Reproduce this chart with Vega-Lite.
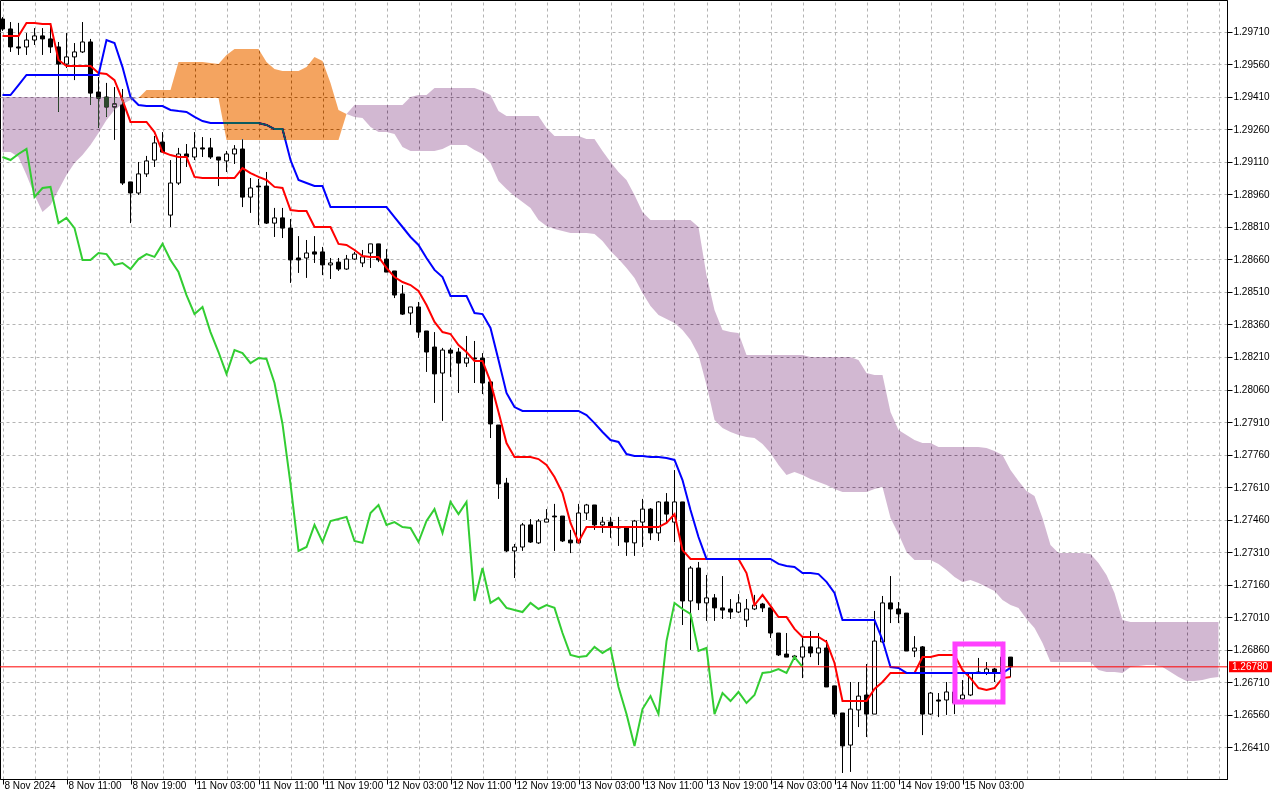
{
"$schema":"https://vega.github.io/schema/vega-lite/v6.json",
"width":1227,"height":779,
"autosize":{"type":"none"},
"padding":{"left":0,"top":0,"right":53,"bottom":21},
"background":"white",
"config":{"view":{"stroke":"black","strokeWidth":1},
"axis":{"labelFont":"Liberation Sans","labelFontSize":10,"labelColor":"black","tickColor":"black","domainColor":"black","gridColor":"#b4b4b4","gridDash":[3,3],"gridWidth":1,"tickWidth":1,"domainWidth":1}},
"datasets":{
"candles":[
{"i":0,"o":1.29770,"h":1.29779,"l":1.29715,"c":1.29724},
{"i":1,"o":1.29724,"h":1.29756,"l":1.29618,"c":1.29641},
{"i":2,"o":1.29641,"h":1.29752,"l":1.29604,"c":1.29636},
{"i":3,"o":1.29641,"h":1.29705,"l":1.29604,"c":1.29673},
{"i":4,"o":1.29673,"h":1.29728,"l":1.29650,"c":1.29692},
{"i":5,"o":1.29692,"h":1.29728,"l":1.29604,"c":1.29678},
{"i":6,"o":1.29678,"h":1.29742,"l":1.29613,"c":1.29641},
{"i":7,"o":1.29641,"h":1.29664,"l":1.29341,"c":1.29562},
{"i":8,"o":1.29562,"h":1.29705,"l":1.29544,"c":1.29595},
{"i":9,"o":1.29595,"h":1.29659,"l":1.29488,"c":1.29618},
{"i":10,"o":1.29618,"h":1.29756,"l":1.29613,"c":1.29664},
{"i":11,"o":1.29664,"h":1.29678,"l":1.29373,"c":1.29428},
{"i":12,"o":1.29433,"h":1.29502,"l":1.29267,"c":1.29405},
{"i":13,"o":1.29410,"h":1.29475,"l":1.29318,"c":1.29364},
{"i":14,"o":1.29364,"h":1.29456,"l":1.29212,"c":1.29378},
{"i":15,"o":1.29373,"h":1.29447,"l":1.29004,"c":1.29013},
{"i":16,"o":1.29018,"h":1.29018,"l":1.28828,"c":1.28967},
{"i":17,"o":1.28967,"h":1.29110,"l":1.28958,"c":1.29055},
{"i":18,"o":1.29055,"h":1.29138,"l":1.29041,"c":1.29115},
{"i":19,"o":1.29119,"h":1.29230,"l":1.29087,"c":1.29198},
{"i":20,"o":1.29202,"h":1.29248,"l":1.29152,"c":1.29156},
{"i":21,"o":1.28865,"h":1.29119,"l":1.28810,"c":1.29013},
{"i":22,"o":1.29013,"h":1.29175,"l":1.29004,"c":1.29147},
{"i":23,"o":1.29147,"h":1.29193,"l":1.29087,"c":1.29133},
{"i":24,"o":1.29133,"h":1.29248,"l":1.29119,"c":1.29175},
{"i":25,"o":1.29175,"h":1.29225,"l":1.29133,"c":1.29170},
{"i":26,"o":1.29175,"h":1.29221,"l":1.29124,"c":1.29133},
{"i":27,"o":1.29133,"h":1.29133,"l":1.28999,"c":1.29119},
{"i":28,"o":1.29115,"h":1.29161,"l":1.29064,"c":1.29147},
{"i":29,"o":1.29147,"h":1.29188,"l":1.29101,"c":1.29170},
{"i":30,"o":1.29170,"h":1.29216,"l":1.28902,"c":1.28948},
{"i":31,"o":1.28948,"h":1.29036,"l":1.28875,"c":1.28990},
{"i":32,"o":1.28999,"h":1.29032,"l":1.28819,"c":1.28995},
{"i":33,"o":1.28999,"h":1.29064,"l":1.28824,"c":1.28828},
{"i":34,"o":1.28828,"h":1.28898,"l":1.28764,"c":1.28852},
{"i":35,"o":1.28852,"h":1.28898,"l":1.28759,"c":1.28805},
{"i":36,"o":1.28805,"h":1.28847,"l":1.28552,"c":1.28658},
{"i":37,"o":1.28667,"h":1.28768,"l":1.28598,"c":1.28658},
{"i":38,"o":1.28667,"h":1.28750,"l":1.28575,"c":1.28690},
{"i":39,"o":1.28695,"h":1.28768,"l":1.28644,"c":1.28685},
{"i":40,"o":1.28695,"h":1.28718,"l":1.28588,"c":1.28635},
{"i":41,"o":1.28635,"h":1.28667,"l":1.28570,"c":1.28644},
{"i":42,"o":1.28648,"h":1.28667,"l":1.28607,"c":1.28616},
{"i":43,"o":1.28616,"h":1.28681,"l":1.28612,"c":1.28662},
{"i":44,"o":1.28662,"h":1.28695,"l":1.28658,"c":1.28685},
{"i":45,"o":1.28644,"h":1.28704,"l":1.28625,"c":1.28672},
{"i":46,"o":1.28690,"h":1.28732,"l":1.28621,"c":1.28732},
{"i":47,"o":1.28732,"h":1.28732,"l":1.28648,"c":1.28658},
{"i":48,"o":1.28662,"h":1.28708,"l":1.28602,"c":1.28602},
{"i":49,"o":1.28607,"h":1.28607,"l":1.28482,"c":1.28496},
{"i":50,"o":1.28501,"h":1.28542,"l":1.28404,"c":1.28408},
{"i":51,"o":1.28413,"h":1.28441,"l":1.28358,"c":1.28441},
{"i":52,"o":1.28441,"h":1.28464,"l":1.28298,"c":1.28325},
{"i":53,"o":1.28330,"h":1.28330,"l":1.28141,"c":1.28233},
{"i":54,"o":1.28256,"h":1.28325,"l":1.27998,"c":1.28132},
{"i":55,"o":1.28136,"h":1.28252,"l":1.27915,"c":1.28242},
{"i":56,"o":1.28242,"h":1.28252,"l":1.28118,"c":1.28228},
{"i":57,"o":1.28233,"h":1.28252,"l":1.28044,"c":1.28182},
{"i":58,"o":1.28182,"h":1.28307,"l":1.28164,"c":1.28205},
{"i":59,"o":1.28205,"h":1.28284,"l":1.28090,"c":1.28201},
{"i":60,"o":1.28205,"h":1.28228,"l":1.28039,"c":1.28090},
{"i":61,"o":1.28095,"h":1.28104,"l":1.27836,"c":1.27901},
{"i":62,"o":1.27896,"h":1.27896,"l":1.27555,"c":1.27624},
{"i":63,"o":1.27628,"h":1.27652,"l":1.27310,"c":1.27315},
{"i":64,"o":1.27315,"h":1.27347,"l":1.27190,"c":1.27333},
{"i":65,"o":1.27333,"h":1.27444,"l":1.27315,"c":1.27435},
{"i":66,"o":1.27435,"h":1.27462,"l":1.27352,"c":1.27356},
{"i":67,"o":1.27352,"h":1.27462,"l":1.27347,"c":1.27453},
{"i":68,"o":1.27448,"h":1.27508,"l":1.27448,"c":1.27462},
{"i":69,"o":1.27476,"h":1.27532,"l":1.27315,"c":1.27472},
{"i":70,"o":1.27476,"h":1.27476,"l":1.27356,"c":1.27361},
{"i":71,"o":1.27365,"h":1.27412,"l":1.27305,"c":1.27352},
{"i":72,"o":1.27352,"h":1.27532,"l":1.27352,"c":1.27490},
{"i":73,"o":1.27490,"h":1.27532,"l":1.27458,"c":1.27527},
{"i":74,"o":1.27527,"h":1.27527,"l":1.27412,"c":1.27435},
{"i":75,"o":1.27435,"h":1.27472,"l":1.27398,"c":1.27448},
{"i":76,"o":1.27448,"h":1.27472,"l":1.27375,"c":1.27425},
{"i":77,"o":1.27425,"h":1.27472,"l":1.27338,"c":1.27421},
{"i":78,"o":1.27425,"h":1.27425,"l":1.27292,"c":1.27356},
{"i":79,"o":1.27352,"h":1.27458,"l":1.27292,"c":1.27453},
{"i":80,"o":1.27448,"h":1.27555,"l":1.27333,"c":1.27508},
{"i":81,"o":1.27508,"h":1.27513,"l":1.27365,"c":1.27398},
{"i":82,"o":1.27398,"h":1.27545,"l":1.27361,"c":1.27541},
{"i":83,"o":1.27541,"h":1.27582,"l":1.27448,"c":1.27485},
{"i":84,"o":1.27448,"h":1.27688,"l":1.27356,"c":1.27541},
{"i":85,"o":1.27541,"h":1.27541,"l":1.26973,"c":1.27084},
{"i":86,"o":1.27084,"h":1.27245,"l":1.26858,"c":1.27236},
{"i":87,"o":1.27236,"h":1.27264,"l":1.27042,"c":1.27075},
{"i":88,"o":1.27075,"h":1.27204,"l":1.26992,"c":1.27098},
{"i":89,"o":1.27098,"h":1.27116,"l":1.26992,"c":1.27052},
{"i":90,"o":1.27052,"h":1.27199,"l":1.27001,"c":1.27042},
{"i":91,"o":1.27047,"h":1.27093,"l":1.27001,"c":1.27033},
{"i":92,"o":1.27033,"h":1.27116,"l":1.27028,"c":1.27075},
{"i":93,"o":1.26996,"h":1.27093,"l":1.26964,"c":1.27047},
{"i":94,"o":1.27047,"h":1.27112,"l":1.27042,"c":1.27065},
{"i":95,"o":1.27070,"h":1.27075,"l":1.27033,"c":1.27052},
{"i":96,"o":1.27052,"h":1.27052,"l":1.26913,"c":1.26936},
{"i":97,"o":1.26936,"h":1.26936,"l":1.26830,"c":1.26835},
{"i":98,"o":1.26839,"h":1.26936,"l":1.26825,"c":1.26825},
{"i":99,"o":1.26825,"h":1.26835,"l":1.26812,"c":1.26830},
{"i":100,"o":1.26825,"h":1.26918,"l":1.26728,"c":1.26872},
{"i":101,"o":1.26872,"h":1.26945,"l":1.26825,"c":1.26844},
{"i":102,"o":1.26844,"h":1.26936,"l":1.26788,"c":1.26867},
{"i":103,"o":1.26867,"h":1.26904,"l":1.26687,"c":1.26687},
{"i":104,"o":1.26692,"h":1.26692,"l":1.26548,"c":1.26562},
{"i":105,"o":1.26567,"h":1.26567,"l":1.26290,"c":1.26415},
{"i":106,"o":1.26419,"h":1.26710,"l":1.26295,"c":1.26585},
{"i":107,"o":1.26581,"h":1.26710,"l":1.26502,"c":1.26645},
{"i":108,"o":1.26650,"h":1.26793,"l":1.26456,"c":1.26562},
{"i":109,"o":1.26562,"h":1.27038,"l":1.26562,"c":1.26899},
{"i":110,"o":1.26895,"h":1.27107,"l":1.26890,"c":1.27075},
{"i":111,"o":1.27075,"h":1.27199,"l":1.26982,"c":1.27047},
{"i":112,"o":1.27047,"h":1.27079,"l":1.26982,"c":1.27024},
{"i":113,"o":1.27028,"h":1.27028,"l":1.26853,"c":1.26853},
{"i":114,"o":1.26853,"h":1.26922,"l":1.26825,"c":1.26867},
{"i":115,"o":1.26872,"h":1.26876,"l":1.26465,"c":1.26562},
{"i":116,"o":1.26562,"h":1.26664,"l":1.26558,"c":1.26659},
{"i":117,"o":1.26627,"h":1.26659,"l":1.26548,"c":1.26622},
{"i":118,"o":1.26627,"h":1.26710,"l":1.26558,"c":1.26664},
{"i":119,"o":1.26664,"h":1.26728,"l":1.26562,"c":1.26613},
{"i":120,"o":1.26632,"h":1.26719,"l":1.26627,"c":1.26650},
{"i":121,"o":1.26650,"h":1.26756,"l":1.26645,"c":1.26752},
{"i":122,"o":1.26752,"h":1.26821,"l":1.26747,"c":1.26756},
{"i":123,"o":1.26752,"h":1.26802,"l":1.26742,"c":1.26770},
{"i":124,"o":1.26770,"h":1.26775,"l":1.26710,"c":1.26752},
{"i":125,"o":1.26752,"h":1.26895,"l":1.26742,"c":1.26825},
{"i":126,"o":1.26825,"h":1.26825,"l":1.26733,"c":1.26780}
],
"ind":[
{"i":0,"t":1.29692,"k":1.29419,"ch":1.29133},
{"i":1,"t":1.29692,"k":1.29419,"ch":1.29119},
{"i":2,"t":1.29692,"k":1.29465,"ch":1.29147},
{"i":3,"t":1.29752,"k":1.29512,"ch":1.29170},
{"i":4,"t":1.29752,"k":1.29512,"ch":1.28948},
{"i":5,"t":1.29747,"k":1.29512,"ch":1.28990},
{"i":6,"t":1.29747,"k":1.29512,"ch":1.28995},
{"i":7,"t":1.29581,"k":1.29512,"ch":1.28828},
{"i":8,"t":1.29553,"k":1.29512,"ch":1.28852},
{"i":9,"t":1.29553,"k":1.29512,"ch":1.28805},
{"i":10,"t":1.29553,"k":1.29512,"ch":1.28658},
{"i":11,"t":1.29553,"k":1.29512,"ch":1.28658},
{"i":12,"t":1.29521,"k":1.29512,"ch":1.28690},
{"i":13,"t":1.29516,"k":1.29673,"ch":1.28685},
{"i":14,"t":1.29488,"k":1.29659,"ch":1.28635},
{"i":15,"t":1.29396,"k":1.29548,"ch":1.28644},
{"i":16,"t":1.29295,"k":1.29410,"ch":1.28616},
{"i":17,"t":1.29295,"k":1.29373,"ch":1.28662},
{"i":18,"t":1.29295,"k":1.29368,"ch":1.28685},
{"i":19,"t":1.29248,"k":1.29368,"ch":1.28672},
{"i":20,"t":1.29156,"k":1.29368,"ch":1.28732},
{"i":21,"t":1.29142,"k":1.29350,"ch":1.28658},
{"i":22,"t":1.29133,"k":1.29345,"ch":1.28602},
{"i":23,"t":1.29133,"k":1.29341,"ch":1.28496},
{"i":24,"t":1.29041,"k":1.29318,"ch":1.28408},
{"i":25,"t":1.29036,"k":1.29299,"ch":1.28441},
{"i":26,"t":1.29036,"k":1.29290,"ch":1.28325},
{"i":27,"t":1.29036,"k":1.29290,"ch":1.28233},
{"i":28,"t":1.29036,"k":1.29290,"ch":1.28132},
{"i":29,"t":1.29036,"k":1.29290,"ch":1.28242},
{"i":30,"t":1.29082,"k":1.29290,"ch":1.28228},
{"i":31,"t":1.29059,"k":1.29290,"ch":1.28182},
{"i":32,"t":1.29041,"k":1.29290,"ch":1.28205},
{"i":33,"t":1.29027,"k":1.29281,"ch":1.28201},
{"i":34,"t":1.28995,"k":1.29262,"ch":1.28090},
{"i":35,"t":1.28990,"k":1.29262,"ch":1.27901},
{"i":36,"t":1.28888,"k":1.29119,"ch":1.27624},
{"i":37,"t":1.28884,"k":1.29027,"ch":1.27315},
{"i":38,"t":1.28884,"k":1.29013,"ch":1.27333},
{"i":39,"t":1.28810,"k":1.28999,"ch":1.27435},
{"i":40,"t":1.28810,"k":1.28999,"ch":1.27356},
{"i":41,"t":1.28810,"k":1.28902,"ch":1.27453},
{"i":42,"t":1.28732,"k":1.28902,"ch":1.27462},
{"i":43,"t":1.28727,"k":1.28902,"ch":1.27472},
{"i":44,"t":1.28704,"k":1.28902,"ch":1.27361},
{"i":45,"t":1.28676,"k":1.28902,"ch":1.27352},
{"i":46,"t":1.28672,"k":1.28902,"ch":1.27490},
{"i":47,"t":1.28672,"k":1.28902,"ch":1.27527},
{"i":48,"t":1.28621,"k":1.28902,"ch":1.27435},
{"i":49,"t":1.28579,"k":1.28856,"ch":1.27448},
{"i":50,"t":1.28556,"k":1.28810,"ch":1.27425},
{"i":51,"t":1.28542,"k":1.28764,"ch":1.27421},
{"i":52,"t":1.28515,"k":1.28727,"ch":1.27356},
{"i":53,"t":1.28450,"k":1.28667,"ch":1.27453},
{"i":54,"t":1.28372,"k":1.28612,"ch":1.27508},
{"i":55,"t":1.28325,"k":1.28579,"ch":1.27398},
{"i":56,"t":1.28316,"k":1.28492,"ch":1.27541},
{"i":57,"t":1.28265,"k":1.28492,"ch":1.27485},
{"i":58,"t":1.28233,"k":1.28492,"ch":1.27541},
{"i":59,"t":1.28192,"k":1.28413,"ch":1.27084},
{"i":60,"t":1.28192,"k":1.28408,"ch":1.27236},
{"i":61,"t":1.28095,"k":1.28344,"ch":1.27075},
{"i":62,"t":1.27956,"k":1.28196,"ch":1.27098},
{"i":63,"t":1.27813,"k":1.28044,"ch":1.27052},
{"i":64,"t":1.27748,"k":1.27979,"ch":1.27042},
{"i":65,"t":1.27748,"k":1.27961,"ch":1.27033},
{"i":66,"t":1.27748,"k":1.27961,"ch":1.27075},
{"i":67,"t":1.27739,"k":1.27961,"ch":1.27047},
{"i":68,"t":1.27712,"k":1.27961,"ch":1.27065},
{"i":69,"t":1.27656,"k":1.27961,"ch":1.27052},
{"i":70,"t":1.27582,"k":1.27961,"ch":1.26936},
{"i":71,"t":1.27444,"k":1.27961,"ch":1.26835},
{"i":72,"t":1.27356,"k":1.27961,"ch":1.26825},
{"i":73,"t":1.27425,"k":1.27942,"ch":1.26830},
{"i":74,"t":1.27425,"k":1.27905,"ch":1.26872},
{"i":75,"t":1.27425,"k":1.27864,"ch":1.26844},
{"i":76,"t":1.27425,"k":1.27827,"ch":1.26867},
{"i":77,"t":1.27425,"k":1.27818,"ch":1.26687},
{"i":78,"t":1.27425,"k":1.27762,"ch":1.26562},
{"i":79,"t":1.27425,"k":1.27753,"ch":1.26415},
{"i":80,"t":1.27425,"k":1.27753,"ch":1.26585},
{"i":81,"t":1.27425,"k":1.27748,"ch":1.26645},
{"i":82,"t":1.27425,"k":1.27748,"ch":1.26562},
{"i":83,"t":1.27444,"k":1.27744,"ch":1.26899},
{"i":84,"t":1.27485,"k":1.27735,"ch":1.27075},
{"i":85,"t":1.27319,"k":1.27642,"ch":1.27047},
{"i":86,"t":1.27278,"k":1.27504,"ch":1.27024},
{"i":87,"t":1.27278,"k":1.27379,"ch":1.26853},
{"i":88,"t":1.27278,"k":1.27278,"ch":1.26867},
{"i":89,"t":1.27278,"k":1.27278,"ch":1.26562},
{"i":90,"t":1.27278,"k":1.27278,"ch":1.26659},
{"i":91,"t":1.27278,"k":1.27278,"ch":1.26622},
{"i":92,"t":1.27278,"k":1.27278,"ch":1.26664},
{"i":93,"t":1.27213,"k":1.27278,"ch":1.26613},
{"i":94,"t":1.27065,"k":1.27278,"ch":1.26650},
{"i":95,"t":1.27112,"k":1.27278,"ch":1.26752},
{"i":96,"t":1.27061,"k":1.27278,"ch":1.26756},
{"i":97,"t":1.27010,"k":1.27255,"ch":1.26770},
{"i":98,"t":1.27010,"k":1.27245,"ch":1.26752},
{"i":99,"t":1.26955,"k":1.27241,"ch":1.26825},
{"i":100,"t":1.26918,"k":1.27213,"ch":1.26780},
{"i":101,"t":1.26918,"k":1.27213},
{"i":102,"t":1.26918,"k":1.27208},
{"i":103,"t":1.26895,"k":1.27172},
{"i":104,"t":1.26798,"k":1.27121},
{"i":105,"t":1.26622,"k":1.26996},
{"i":106,"t":1.26622,"k":1.26996},
{"i":107,"t":1.26622,"k":1.26996},
{"i":108,"t":1.26622,"k":1.26996},
{"i":109,"t":1.26678,"k":1.26996},
{"i":110,"t":1.26710,"k":1.26904},
{"i":111,"t":1.26752,"k":1.26779},
{"i":112,"t":1.26752,"k":1.26775},
{"i":113,"t":1.26752,"k":1.26752},
{"i":114,"t":1.26752,"k":1.26752},
{"i":115,"t":1.26825,"k":1.26752},
{"i":116,"t":1.26825,"k":1.26752},
{"i":117,"t":1.26835,"k":1.26752},
{"i":118,"t":1.26835,"k":1.26752},
{"i":119,"t":1.26835,"k":1.26752},
{"i":120,"t":1.26765,"k":1.26752},
{"i":121,"t":1.26728,"k":1.26752},
{"i":122,"t":1.26682,"k":1.26752},
{"i":123,"t":1.26673,"k":1.26752},
{"i":124,"t":1.26682,"k":1.26752},
{"i":125,"t":1.26728,"k":1.26752},
{"i":126,"t":1.26733,"k":1.26775}
],
"cloud":[
{"i":0,"s":"p1","a":1.29156,"b":1.29410},
{"i":1,"s":"p1","a":1.29156,"b":1.29410},
{"i":2,"s":"p1","a":1.29133,"b":1.29410},
{"i":3,"s":"p1","a":1.29050,"b":1.29410},
{"i":4,"s":"p1","a":1.28958,"b":1.29410},
{"i":5,"s":"p1","a":1.28879,"b":1.29410},
{"i":6,"s":"p1","a":1.28912,"b":1.29410},
{"i":7,"s":"p1","a":1.28981,"b":1.29410},
{"i":8,"s":"p1","a":1.29050,"b":1.29410},
{"i":9,"s":"p1","a":1.29105,"b":1.29410},
{"i":10,"s":"p1","a":1.29142,"b":1.29410},
{"i":11,"s":"p1","a":1.29188,"b":1.29410},
{"i":12,"s":"p1","a":1.29244,"b":1.29410},
{"i":13,"s":"p1","a":1.29304,"b":1.29410},
{"i":14,"s":"p1","a":1.29350,"b":1.29410},
{"i":15,"s":"p1","a":1.29378,"b":1.29410},
{"i":16,"s":"p1","a":1.29396,"b":1.29410},
{"i":17,"s":"p1","a":1.29405,"b":1.29405},
{"i":17,"s":"o","a":1.29405,"b":1.29405},
{"i":18,"s":"o","a":1.29442,"b":1.29405},
{"i":19,"s":"o","a":1.29442,"b":1.29405},
{"i":20,"s":"o","a":1.29442,"b":1.29405},
{"i":21,"s":"o","a":1.29442,"b":1.29405},
{"i":22,"s":"o","a":1.29572,"b":1.29405},
{"i":23,"s":"o","a":1.29572,"b":1.29405},
{"i":24,"s":"o","a":1.29572,"b":1.29405},
{"i":25,"s":"o","a":1.29572,"b":1.29405},
{"i":26,"s":"o","a":1.29567,"b":1.29405},
{"i":27,"s":"o","a":1.29562,"b":1.29405},
{"i":28,"s":"o","a":1.29604,"b":1.29212},
{"i":29,"s":"o","a":1.29632,"b":1.29212},
{"i":30,"s":"o","a":1.29632,"b":1.29212},
{"i":31,"s":"o","a":1.29632,"b":1.29212},
{"i":32,"s":"o","a":1.29632,"b":1.29212},
{"i":33,"s":"o","a":1.29572,"b":1.29212},
{"i":34,"s":"o","a":1.29539,"b":1.29212},
{"i":35,"s":"o","a":1.29530,"b":1.29212},
{"i":36,"s":"o","a":1.29530,"b":1.29212},
{"i":37,"s":"o","a":1.29530,"b":1.29212},
{"i":38,"s":"o","a":1.29548,"b":1.29212},
{"i":39,"s":"o","a":1.29595,"b":1.29212},
{"i":40,"s":"o","a":1.29576,"b":1.29212},
{"i":41,"s":"o","a":1.29475,"b":1.29212},
{"i":42,"s":"o","a":1.29350,"b":1.29212},
{"i":43,"s":"o","a":1.29332,"b":1.29332},
{"i":43,"s":"p2","a":1.29332,"b":1.29332},
{"i":44,"s":"p2","a":1.29318,"b":1.29373},
{"i":45,"s":"p2","a":1.29313,"b":1.29373},
{"i":46,"s":"p2","a":1.29272,"b":1.29373},
{"i":47,"s":"p2","a":1.29248,"b":1.29373},
{"i":48,"s":"p2","a":1.29248,"b":1.29373},
{"i":49,"s":"p2","a":1.29239,"b":1.29373},
{"i":50,"s":"p2","a":1.29179,"b":1.29373},
{"i":51,"s":"p2","a":1.29161,"b":1.29410},
{"i":52,"s":"p2","a":1.29161,"b":1.29419},
{"i":53,"s":"p2","a":1.29161,"b":1.29419},
{"i":54,"s":"p2","a":1.29161,"b":1.29452},
{"i":55,"s":"p2","a":1.29170,"b":1.29452},
{"i":56,"s":"p2","a":1.29188,"b":1.29452},
{"i":57,"s":"p2","a":1.29188,"b":1.29452},
{"i":58,"s":"p2","a":1.29188,"b":1.29452},
{"i":59,"s":"p2","a":1.29165,"b":1.29452},
{"i":60,"s":"p2","a":1.29147,"b":1.29438},
{"i":61,"s":"p2","a":1.29105,"b":1.29419},
{"i":62,"s":"p2","a":1.29022,"b":1.29345},
{"i":63,"s":"p2","a":1.28985,"b":1.29322},
{"i":64,"s":"p2","a":1.28953,"b":1.29322},
{"i":65,"s":"p2","a":1.28925,"b":1.29322},
{"i":66,"s":"p2","a":1.28898,"b":1.29322},
{"i":67,"s":"p2","a":1.28842,"b":1.29322},
{"i":68,"s":"p2","a":1.28815,"b":1.29267},
{"i":69,"s":"p2","a":1.28801,"b":1.29230},
{"i":70,"s":"p2","a":1.28792,"b":1.29230},
{"i":71,"s":"p2","a":1.28782,"b":1.29230},
{"i":72,"s":"p2","a":1.28782,"b":1.29230},
{"i":73,"s":"p2","a":1.28782,"b":1.29216},
{"i":74,"s":"p2","a":1.28778,"b":1.29216},
{"i":75,"s":"p2","a":1.28745,"b":1.29161},
{"i":76,"s":"p2","a":1.28699,"b":1.29110},
{"i":77,"s":"p2","a":1.28662,"b":1.29064},
{"i":78,"s":"p2","a":1.28621,"b":1.29027},
{"i":79,"s":"p2","a":1.28575,"b":1.28958},
{"i":80,"s":"p2","a":1.28505,"b":1.28879},
{"i":81,"s":"p2","a":1.28445,"b":1.28842},
{"i":82,"s":"p2","a":1.28404,"b":1.28842},
{"i":83,"s":"p2","a":1.28385,"b":1.28842},
{"i":84,"s":"p2","a":1.28367,"b":1.28842},
{"i":85,"s":"p2","a":1.28335,"b":1.28842},
{"i":86,"s":"p2","a":1.28288,"b":1.28842},
{"i":87,"s":"p2","a":1.28219,"b":1.28810},
{"i":88,"s":"p2","a":1.28081,"b":1.28588},
{"i":89,"s":"p2","a":1.27919,"b":1.28427},
{"i":90,"s":"p2","a":1.27882,"b":1.28335},
{"i":91,"s":"p2","a":1.27864,"b":1.28325},
{"i":92,"s":"p2","a":1.27850,"b":1.28321},
{"i":93,"s":"p2","a":1.27841,"b":1.28219},
{"i":94,"s":"p2","a":1.27836,"b":1.28219},
{"i":95,"s":"p2","a":1.27808,"b":1.28219},
{"i":96,"s":"p2","a":1.27767,"b":1.28219},
{"i":97,"s":"p2","a":1.27712,"b":1.28219},
{"i":98,"s":"p2","a":1.27665,"b":1.28219},
{"i":99,"s":"p2","a":1.27679,"b":1.28219},
{"i":100,"s":"p2","a":1.27665,"b":1.28219},
{"i":101,"s":"p2","a":1.27647,"b":1.28210},
{"i":102,"s":"p2","a":1.27633,"b":1.28210},
{"i":103,"s":"p2","a":1.27619,"b":1.28210},
{"i":104,"s":"p2","a":1.27601,"b":1.28210},
{"i":105,"s":"p2","a":1.27587,"b":1.28210},
{"i":106,"s":"p2","a":1.27587,"b":1.28210},
{"i":107,"s":"p2","a":1.27587,"b":1.28196},
{"i":108,"s":"p2","a":1.27587,"b":1.28136},
{"i":109,"s":"p2","a":1.27601,"b":1.28127},
{"i":110,"s":"p2","a":1.27610,"b":1.28127},
{"i":111,"s":"p2","a":1.27467,"b":1.27956},
{"i":112,"s":"p2","a":1.27393,"b":1.27873},
{"i":113,"s":"p2","a":1.27310,"b":1.27850},
{"i":114,"s":"p2","a":1.27273,"b":1.27827},
{"i":115,"s":"p2","a":1.27273,"b":1.27813},
{"i":116,"s":"p2","a":1.27273,"b":1.27813},
{"i":117,"s":"p2","a":1.27255,"b":1.27795},
{"i":118,"s":"p2","a":1.27227,"b":1.27795},
{"i":119,"s":"p2","a":1.27195,"b":1.27795},
{"i":120,"s":"p2","a":1.27172,"b":1.27795},
{"i":121,"s":"p2","a":1.27181,"b":1.27795},
{"i":122,"s":"p2","a":1.27167,"b":1.27795},
{"i":123,"s":"p2","a":1.27148,"b":1.27790},
{"i":124,"s":"p2","a":1.27130,"b":1.27776},
{"i":125,"s":"p2","a":1.27088,"b":1.27758},
{"i":126,"s":"p2","a":1.27065,"b":1.27688},
{"i":127,"s":"p2","a":1.27052,"b":1.27638},
{"i":128,"s":"p2","a":1.27001,"b":1.27592},
{"i":129,"s":"p2","a":1.26959,"b":1.27568},
{"i":130,"s":"p2","a":1.26890,"b":1.27467},
{"i":131,"s":"p2","a":1.26802,"b":1.27342},
{"i":132,"s":"p2","a":1.26802,"b":1.27305},
{"i":133,"s":"p2","a":1.26802,"b":1.27305},
{"i":134,"s":"p2","a":1.26802,"b":1.27305},
{"i":135,"s":"p2","a":1.26802,"b":1.27305},
{"i":136,"s":"p2","a":1.26802,"b":1.27301},
{"i":137,"s":"p2","a":1.26765,"b":1.27259},
{"i":138,"s":"p2","a":1.26756,"b":1.27204},
{"i":139,"s":"p2","a":1.26756,"b":1.27121},
{"i":140,"s":"p2","a":1.26752,"b":1.26996},
{"i":141,"s":"p2","a":1.26779,"b":1.26987},
{"i":142,"s":"p2","a":1.26784,"b":1.26987},
{"i":143,"s":"p2","a":1.26788,"b":1.26987},
{"i":144,"s":"p2","a":1.26788,"b":1.26987},
{"i":145,"s":"p2","a":1.26779,"b":1.26987},
{"i":146,"s":"p2","a":1.26756,"b":1.26987},
{"i":147,"s":"p2","a":1.26733,"b":1.26987},
{"i":148,"s":"p2","a":1.26715,"b":1.26987},
{"i":149,"s":"p2","a":1.26715,"b":1.26987},
{"i":150,"s":"p2","a":1.26719,"b":1.26987},
{"i":151,"s":"p2","a":1.26728,"b":1.26987},
{"i":152,"s":"p2","a":1.26733,"b":1.26987}
],
"box":[{"i1":119.06,"i2":125.06,"top":1.26885,"bottom":1.26618}],
"price":[{"p":1.26780}]
},
"resolve":{"axis":{"x":"independent","y":"independent"}},
"layer":[
{"data":{"name":"candles"},
 "mark":{"type":"rule","color":"black","strokeWidth":1},
 "encoding":{
  "x":{"field":"i","type":"quantitative","scale":{"domain":[-0.3125,153.0625],"nice":false,"zero":false,"padding":0},
   "axis":{"orient":"bottom","title":null,"values":[0,8,16,24,32,40,48,56,64,72,80,88,96,104,112,120],
    "labelExpr":"['8 Nov 2024','8 Nov 11:00','8 Nov 19:00','11 Nov 03:00','11 Nov 11:00','11 Nov 19:00','12 Nov 03:00','12 Nov 11:00','12 Nov 19:00','13 Nov 03:00','13 Nov 11:00','13 Nov 19:00','14 Nov 03:00','14 Nov 11:00','14 Nov 19:00','15 Nov 03:00'][round(datum.value/8)]",
    "grid":false,"tickSize":5,"labelPadding":-4,"labelAlign":"left","labelBaseline":"top","labelOffset":1.5,"labelOverlap":false,"labelFlush":false}},
  "y":{"field":"l","type":"quantitative","scale":{"domain":[1.2626231,1.2985769],"nice":false,"zero":false},
   "axis":{"orient":"right","title":null,"values":[1.2641,1.2656,1.2671,1.2686,1.2701,1.2716,1.2731,1.2746,1.2761,1.2776,1.2791,1.2806,1.2821,1.2836,1.2851,1.2866,1.2881,1.2896,1.2911,1.2926,1.2941,1.2956,1.2971],
    "format":".5f","grid":true,"tickSize":5,"labelPadding":1,"labelAlign":"left","labelBaseline":"middle","labelOverlap":false,"labelFlush":false}},
  "y2":{"field":"h"}}},
{"data":{"name":"candles"},
 "mark":{"type":"bar","size":4,"stroke":"black","strokeWidth":1},
 "encoding":{
  "x":{"field":"i","type":"quantitative","scale":{"domain":[-0.3125,153.0625],"nice":false,"zero":false,"padding":0},"axis":null},
  "y":{"field":"o","type":"quantitative","scale":{"domain":[1.2626231,1.2985769],"nice":false,"zero":false},"axis":null},
  "y2":{"field":"c"},
  "fill":{"condition":{"test":"datum.c > datum.o","value":"white"},"value":"black"}}},
{"data":{"name":"ind"},
 "mark":{"type":"line","color":"#ff0000","strokeWidth":2},
 "encoding":{
  "x":{"field":"i","type":"quantitative","scale":{"domain":[-0.3125,153.0625],"nice":false,"zero":false,"padding":0},"axis":null},
  "y":{"field":"t","type":"quantitative","scale":{"domain":[1.2626231,1.2985769],"nice":false,"zero":false},"axis":null}}},
{"data":{"name":"ind"},
 "mark":{"type":"line","color":"#0000ff","strokeWidth":2},
 "encoding":{
  "x":{"field":"i","type":"quantitative","scale":{"domain":[-0.3125,153.0625],"nice":false,"zero":false,"padding":0},"axis":null},
  "y":{"field":"k","type":"quantitative","scale":{"domain":[1.2626231,1.2985769],"nice":false,"zero":false},"axis":null}}},
{"data":{"name":"cloud"},
 "mark":{"type":"area","blend":"difference","opacity":1},
 "encoding":{
  "x":{"field":"i","type":"quantitative","scale":{"domain":[-0.3125,153.0625],"nice":false,"zero":false,"padding":0},
   "axis":{"orient":"top","title":null,"values":[0,4,8,12,16,20,24,28,32,36,40,44,48,52,56,60,64,68,72,76,80,84,88,92,96,100,104,108,112,116,120,124,128,132,136,140,144,148,152],"labels":false,"ticks":false,"domain":false,"grid":true}},
  "y":{"field":"a","type":"quantitative","scale":{"domain":[1.2626231,1.2985769],"nice":false,"zero":false},"axis":null},
  "y2":{"field":"b"},
  "color":{"field":"s","type":"nominal","scale":{"domain":["p1","o","p2"],"range":["#2d472d","#0b5b9f","#2d472d"]},"legend":null}}},
{"data":{"name":"ind"},
 "mark":{"type":"line","color":"#32cd32","strokeWidth":2},
 "encoding":{
  "x":{"field":"i","type":"quantitative","scale":{"domain":[-0.3125,153.0625],"nice":false,"zero":false,"padding":0},"axis":null},
  "y":{"field":"ch","type":"quantitative","scale":{"domain":[1.2626231,1.2985769],"nice":false,"zero":false},"axis":null}}},
{"data":{"name":"price"},
 "mark":{"type":"rule","color":"#ff0000","strokeWidth":1},
 "encoding":{"y":{"field":"p","type":"quantitative","scale":{"domain":[1.2626231,1.2985769],"nice":false,"zero":false},"axis":null}}},
{"data":{"name":"box"},
 "mark":{"type":"rect","fill":"white","fillOpacity":0,"stroke":"#ff40ff","strokeWidth":5},
 "encoding":{
  "x":{"field":"i1","type":"quantitative","scale":{"domain":[-0.3125,153.0625],"nice":false,"zero":false,"padding":0},"axis":null},
  "x2":{"field":"i2"},
  "y":{"field":"top","type":"quantitative","scale":{"domain":[1.2626231,1.2985769],"nice":false,"zero":false},"axis":null},
  "y2":{"field":"bottom"}}},
{"data":{"name":"price"},
 "mark":{"type":"point","shape":"M0.2,-0.55H4.5V0.55H0.2Z","size":400,"filled":true,"color":"#ff0000","opacity":1,"strokeWidth":0},
 "encoding":{"x":{"value":"width"},
  "y":{"field":"p","type":"quantitative","scale":{"domain":[1.2626231,1.2985769],"nice":false,"zero":false},"axis":null}}},
{"data":{"name":"price"},
 "mark":{"type":"text","align":"left","baseline":"middle","dx":5,"color":"white","font":"Liberation Sans","fontSize":10},
 "encoding":{"x":{"value":"width"},
  "y":{"field":"p","type":"quantitative","scale":{"domain":[1.2626231,1.2985769],"nice":false,"zero":false},"axis":null},
  "text":{"field":"p","format":".5f"}}}
]
}
